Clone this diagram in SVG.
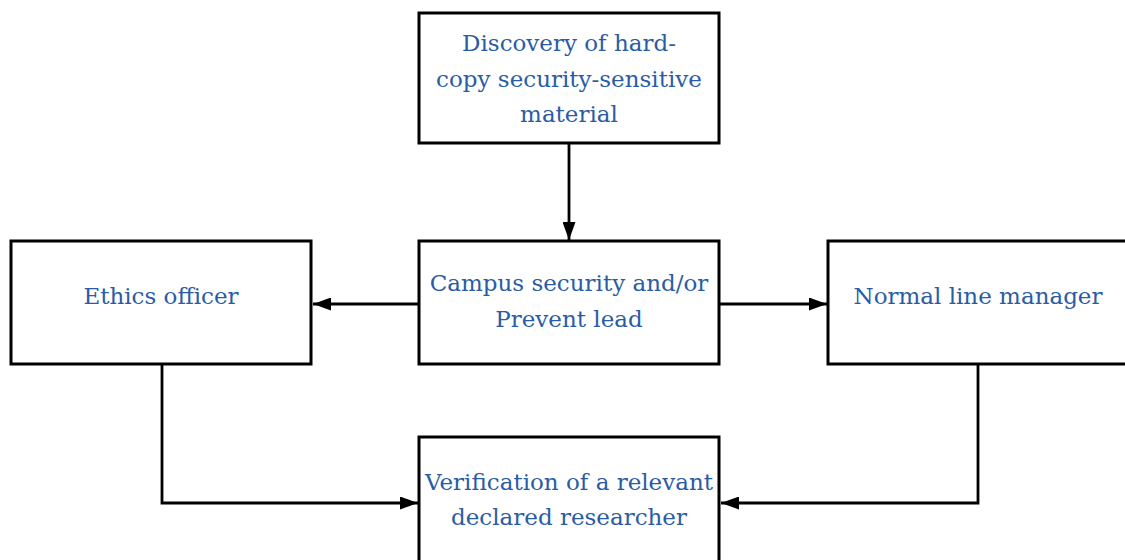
<svg xmlns="http://www.w3.org/2000/svg" width="1125" height="560" viewBox="0 0 1125 560">
<defs>
<marker id="arr" viewBox="0 0 18 13" refX="18" refY="6.5" markerWidth="18" markerHeight="13" markerUnits="userSpaceOnUse" orient="auto">
<path d="M0,0 L18,6.5 L0,13 z" fill="#000"/>
</marker>
<style>
.box{fill:#fff;stroke:#000;stroke-width:3}
.t{font-family:"DejaVu Serif","Liberation Serif",serif;font-size:23px;fill:#2a5ca4;text-anchor:middle}
.c{fill:none;stroke:#000;stroke-width:2.8;marker-end:url(#arr)}
</style>
</defs>
<rect width="1125" height="560" fill="#fff"/>
<g id="connectors">
<line class="c" x1="569" y1="143" x2="569" y2="240"/>
<line class="c" x1="419" y1="304" x2="313" y2="304"/>
<line class="c" x1="719" y1="304" x2="827" y2="304"/>
<polyline class="c" points="162,364 162,503 418,503"/>
<polyline class="c" points="978,364 978,503 721,503"/>
</g>
<g id="discovery">
<rect class="box" x="419" y="13" width="300" height="130"/>
<text class="t" x="569" y="51">Discovery of hard-</text>
<text class="t" x="569" y="87">copy security-sensitive</text>
<text class="t" x="569" y="122">material</text>
</g>
<g id="campus">
<rect class="box" x="419" y="241" width="300" height="123"/>
<text class="t" x="569" y="291">Campus security and/or</text>
<text class="t" x="569" y="327">Prevent lead</text>
</g>
<g id="ethics">
<rect class="box" x="11" y="241" width="300" height="123"/>
<text class="t" x="161" y="304">Ethics officer</text>
</g>
<g id="manager">
<rect class="box" x="828" y="241" width="300" height="123"/>
<text class="t" x="978" y="304">Normal line manager</text>
</g>
<g id="verification">
<rect class="box" x="419" y="437" width="300" height="130"/>
<text class="t" x="569" y="490">Verification of a relevant</text>
<text class="t" x="569" y="525">declared researcher</text>
</g>
</svg>
